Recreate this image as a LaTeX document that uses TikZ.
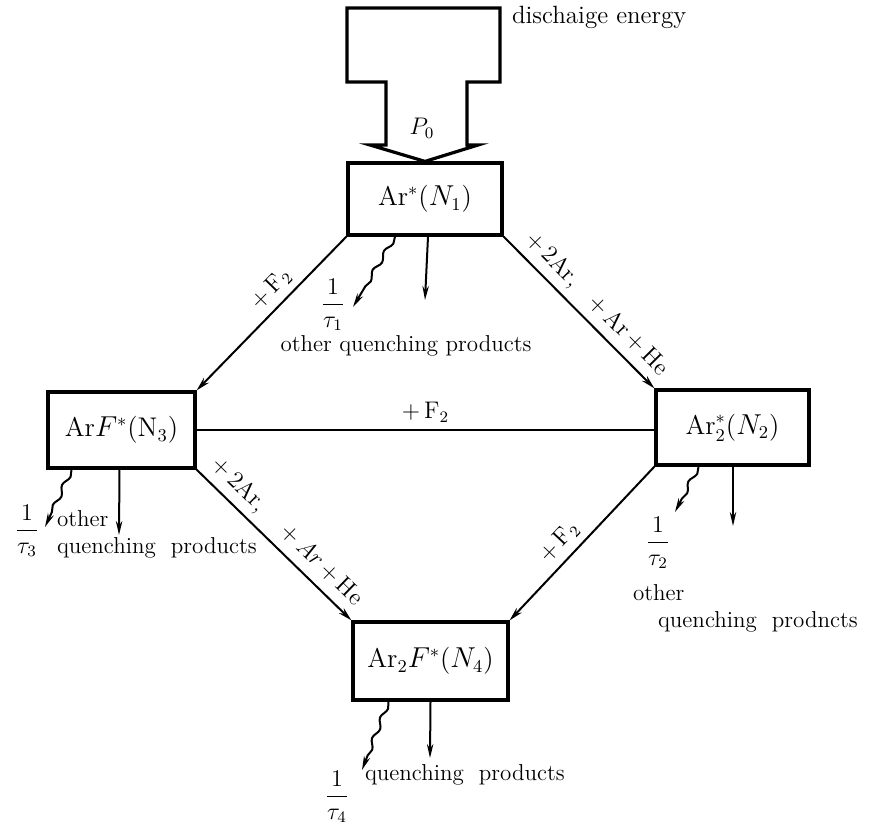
\documentclass[tikz,border=0pt]{standalone}
\usetikzlibrary{arrows.meta,decorations.pathmorphing,calc}
\begin{document}
\begin{tikzpicture}[x=0.5pt,y=-0.5pt,
  every node/.style={font=\fontsize{11.5}{13}\selectfont},
  box/.style={draw, line width=1.6pt, inner sep=0pt, font=\fontsize{13.5}{15}\selectfont},
  link/.style={line width=1pt, -{Stealth[length=7pt,width=3.5pt]}},
  decay/.style={line width=1pt, -{Stealth[length=7pt,width=3.2pt]}},
  wavy/.style={decay, decorate, decoration={snake, amplitude=1.1pt, segment length=11pt, post length=7pt}},
  lbl/.style={font=\fontsize{12}{14}\selectfont}]
\useasboundingbox (0,0) rectangle (881,825);

% states
\node[box, minimum width=77pt, minimum height=36pt] (n1) at (425,199) {Ar$^{*}$($N_1$)};
\node[box, minimum width=73.5pt, minimum height=38pt] (n3) at (121.5,430) {Ar$F^{*}$(N$_3$)};
\node[box, minimum width=76.5pt, minimum height=37.5pt] (n2) at (732.5,427.5) {Ar$_2^{*}$($N_2$)};
\node[box, minimum width=77.5pt, minimum height=39pt] (n4) at (430.5,661) {Ar$_2F^{*}$($N_4$)};

% discharge energy arrow
\draw[line width=1.6pt, line join=miter]
  (347,8) -- (500,8) -- (500,82) -- (467,82) -- (467,145) -- (478,145)
  -- (n1.north) -- (370,145) -- (386,145) -- (386,82) -- (347,82) -- cycle;
\node[anchor=west, font=\fontsize{12.5}{14}\selectfont] (de) at (505,17) {dischaige energy};
\node (p0) at (422,128) {$P_0$};

% transfer connectors
\draw[link] (n1.south west) -- (n3.north east)
  node[lbl, pos=0.42, sloped, above] {$+$\,F$_2$};
\draw[link] (n1.south east) -- (n2.north west)
  node[lbl, pos=0.53, sloped, above] {$+$\,2Ar,\hspace{0.9em}$+$\,Ar\,$+$\,He};
\draw[line width=1pt] (n3.east) -- (n3.east -| n2.west)
  node[lbl, midway, above] {$+$\,F$_2$};
\draw[link] (n3.south east) -- (n4.north west)
  node[lbl, pos=0.5, sloped, above] {$+$\,2Ar,\hspace{1.2em}$+$\,$Ar$\,$+$\,He};
\draw[link] (n2.south west) -- (n4.north east)
  node[lbl, pos=0.57, sloped, above] {$+$\,F$_2$};

% decay of N1
\coordinate (e1w) at (353,307);
\coordinate (e1q) at (425,300);
\draw[wavy] ($(n1.south)+(-30,0)$) -- (e1w);
\draw[decay] ($(n1.south)+(3,0)$) -- (e1q);
\node (t1) at (333,305) {$\displaystyle\frac{1}{\tau_1}$};
\node (q1) at (406,346) {other quenching products};

% decay of N3
\coordinate (e3w) at (45,527);
\coordinate (e3q) at (119,535);
\draw[wavy] ($(n3.south)+(-50,0)$) -- (e3w);
\draw[decay] ($(n3.south)+(-2,0)$) -- (e3q);
\node (t3) at (27,531) {$\displaystyle\frac{1}{\tau_3}$};
\node[anchor=west] (o3) at (50,519) {other};
\node[anchor=west] (q3) at (50,548) {quenching\ \ products};

% decay of N2
\coordinate (e2w) at (675,512);
\coordinate (e2q) at (733,526);
\draw[wavy] ($(n2.south)+(-34,0)$) -- (e2w);
\draw[decay] ($(n2.south)+(0.5,0)$) -- (e2q);
\node (t2) at (658,543) {$\displaystyle\frac{1}{\tau_2}$};
\node[anchor=west] (o2) at (626,593) {other};
\node[anchor=west] (q2) at (651,622) {quenching\ \ prodncts};

% decay of N4
\coordinate (e4w) at (362,770);
\coordinate (e4q) at (430,758);
\draw[wavy] ($(n4.south)+(-42,0)$) -- (e4w);
\draw[decay] ($(n4.south)+(0,0)$) -- (e4q);
\node (t4) at (337,797) {$\displaystyle\frac{1}{\tau_4}$};
\node[anchor=west] (q4) at (358,775) {quenching\ \ products};
\end{tikzpicture}
\end{document}
